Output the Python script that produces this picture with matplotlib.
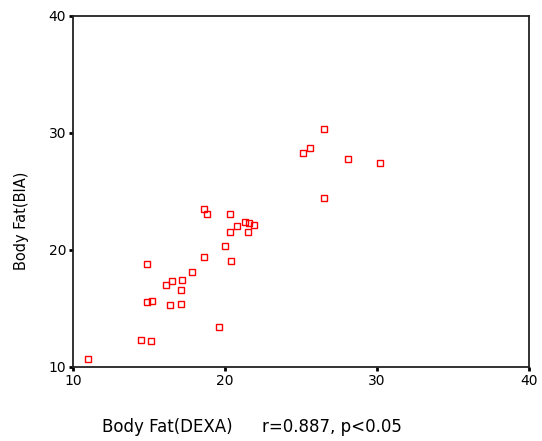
import matplotlib
matplotlib.use('Agg')
import matplotlib.pyplot as plt

dexa = [11.0, 14.5, 15.1, 14.9, 14.9, 15.2, 16.1, 16.5, 16.4, 17.1,
        17.2, 17.1, 17.8, 18.6, 20.4, 19.6, 26.5, 25.6, 25.1, 28.1,
        30.2, 26.5, 18.6, 18.8, 20.3, 21.3, 21.6, 21.9, 20.8, 20.3,
        21.5, 20.0]
bia = [10.7, 12.3, 12.2, 18.8, 15.5, 15.6, 17.0, 17.3, 15.3, 16.6,
       17.4, 15.4, 18.1, 19.4, 19.0, 13.4, 30.3, 28.7, 28.3, 27.8,
       27.4, 24.4, 23.5, 23.1, 23.1, 22.4, 22.3, 22.1, 22.0, 21.5,
       21.5, 20.3]

ticks = [10, 20, 30, 40]
xlabel = 'Body Fat(DEXA)'
stats = 'r=0.887, p<0.05'
ylabel = 'Body Fat(BIA)'

plt.rcParams['font.family'] = ['DejaVu Sans']

fig = plt.figure(figsize=(5.42, 4.41), dpi=100)
ax = fig.add_axes([0.1347, 0.1685, 0.8413, 0.7953])

ax.plot(dexa, bia, 's', markersize=4.2, markerfacecolor='none',
        markeredgecolor='#ff0000', markeredgewidth=1.0, clip_on=False)

ax.set_xlim(10, 40)
ax.set_ylim(10, 40)
ax.set_xticks(ticks)
ax.set_yticks(ticks)
ax.tick_params(direction='out', length=3, width=2, color='black',
               labelsize=10, pad=2)

for s in ax.spines.values():
    s.set_color('#222222')
    s.set_linewidth(1.3)

fig.text(102 / 542, 1 - 427 / 441, xlabel, ha='left', va='center', fontsize=12)
fig.text(262 / 542, 1 - 427 / 441, stats, ha='left', va='center', fontsize=12)
fig.text(22 / 542, 1 - 221 / 441, ylabel, ha='center', va='center',
         rotation=90, fontsize=10.5)

fig.savefig('out.png', dpi=100)
